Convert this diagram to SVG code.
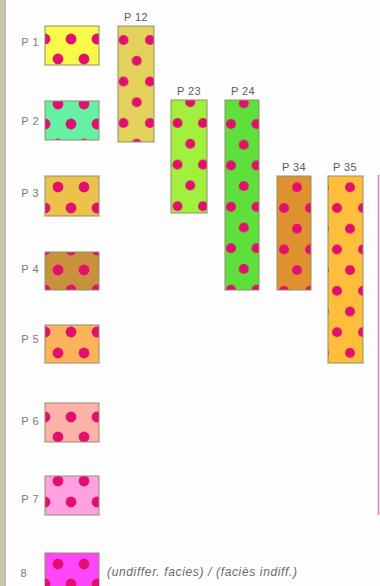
<svg xmlns="http://www.w3.org/2000/svg" width="380" height="586" viewBox="0 0 380 586">
<style>
.lbl{font-family:"Liberation Sans",Arial,sans-serif;font-size:11px;fill:#7a7a7a;letter-spacing:0.5px}
.clbl{font-family:"Liberation Sans",Arial,sans-serif;font-size:11px;fill:#5a5a5a;letter-spacing:0.4px;text-anchor:middle}
.note{font-family:"Liberation Sans",Arial,sans-serif;font-size:12px;font-style:italic;fill:#6a6a6a}
.edge{stroke:#8f8f6a;stroke-width:1}
.dot{fill:#e2106c}
pattern circle{fill:#e2106c}
</style>
<defs>
<pattern id="p1" patternUnits="userSpaceOnUse" x="45" y="39" width="26" height="40"><circle cx="0" cy="0" r="5.4"/><circle cx="26" cy="0" r="5.4"/><circle cx="13" cy="20" r="5.4"/><circle cx="0" cy="40" r="5.4"/><circle cx="26" cy="40" r="5.4"/></pattern>
<pattern id="p2" patternUnits="userSpaceOnUse" x="45" y="124" width="26" height="40"><circle cx="0" cy="0" r="5.4"/><circle cx="26" cy="0" r="5.4"/><circle cx="13" cy="20" r="5.4"/><circle cx="0" cy="40" r="5.4"/><circle cx="26" cy="40" r="5.4"/></pattern>
<pattern id="p3" patternUnits="userSpaceOnUse" x="45" y="208" width="26" height="42"><circle cx="0" cy="0" r="5.4"/><circle cx="26" cy="0" r="5.4"/><circle cx="13" cy="21" r="5.4"/><circle cx="0" cy="42" r="5.4"/><circle cx="26" cy="42" r="5.4"/></pattern>
<pattern id="p4" patternUnits="userSpaceOnUse" x="45" y="250" width="26" height="40"><circle cx="0" cy="0" r="5.4"/><circle cx="26" cy="0" r="5.4"/><circle cx="13" cy="20" r="5.4"/><circle cx="0" cy="40" r="5.4"/><circle cx="26" cy="40" r="5.4"/></pattern>
<pattern id="p5" patternUnits="userSpaceOnUse" x="45" y="332" width="26" height="42"><circle cx="0" cy="0" r="5.4"/><circle cx="26" cy="0" r="5.4"/><circle cx="13" cy="21" r="5.4"/><circle cx="0" cy="42" r="5.4"/><circle cx="26" cy="42" r="5.4"/></pattern>
<pattern id="p6" patternUnits="userSpaceOnUse" x="45" y="417" width="26" height="40"><circle cx="0" cy="0" r="5.4"/><circle cx="26" cy="0" r="5.4"/><circle cx="13" cy="20" r="5.4"/><circle cx="0" cy="40" r="5.4"/><circle cx="26" cy="40" r="5.4"/></pattern>
<pattern id="p7" patternUnits="userSpaceOnUse" x="45" y="502" width="26" height="42"><circle cx="0" cy="0" r="5.4"/><circle cx="26" cy="0" r="5.4"/><circle cx="13" cy="21" r="5.4"/><circle cx="0" cy="42" r="5.4"/><circle cx="26" cy="42" r="5.4"/></pattern>
<pattern id="p12" patternUnits="userSpaceOnUse" x="123.5" y="40" width="26.5" height="41.5"><circle cx="0" cy="0" r="5"/><circle cx="26.5" cy="0" r="5"/><circle cx="13.25" cy="20.75" r="5"/><circle cx="0" cy="41.5" r="5"/><circle cx="26.5" cy="41.5" r="5"/></pattern>
<pattern id="p23" patternUnits="userSpaceOnUse" x="177.5" y="123" width="25.5" height="41.6"><circle cx="0" cy="0" r="5"/><circle cx="25.5" cy="0" r="5"/><circle cx="12.75" cy="20.8" r="5"/><circle cx="0" cy="41.6" r="5"/><circle cx="25.5" cy="41.6" r="5"/></pattern>
<pattern id="p24" patternUnits="userSpaceOnUse" x="231" y="124" width="25.5" height="41.4"><circle cx="0" cy="0" r="5"/><circle cx="25.5" cy="0" r="5"/><circle cx="12.75" cy="20.7" r="5"/><circle cx="0" cy="41.4" r="5"/><circle cx="25.5" cy="41.4" r="5"/></pattern>
<pattern id="p34" patternUnits="userSpaceOnUse" x="284" y="208" width="26" height="41.4"><circle cx="0" cy="0" r="5"/><circle cx="26" cy="0" r="5"/><circle cx="13" cy="20.7" r="5"/><circle cx="0" cy="41.4" r="5"/><circle cx="26" cy="41.4" r="5"/></pattern>
<pattern id="p35" patternUnits="userSpaceOnUse" x="337" y="208" width="26" height="41.4"><circle cx="0" cy="0" r="5"/><circle cx="26" cy="0" r="5"/><circle cx="13" cy="20.7" r="5"/><circle cx="0" cy="41.4" r="5"/><circle cx="26" cy="41.4" r="5"/></pattern>
<clipPath id="c8"><rect x="45" y="553" width="54" height="38"/></clipPath>
</defs>
<rect width="380" height="586" fill="#fdfdfd"/>
<rect x="0" y="0" width="4" height="586" fill="#c9c7a6"/>
<line x1="5" y1="0" x2="5" y2="586" stroke="#a6a69c" stroke-width="1.5"/>
<line x1="378.5" y1="175" x2="378.5" y2="515" stroke="#e77eb2" stroke-width="1.5"/>

<g id="P1"><rect x="45" y="26" width="54" height="39" fill="#f9f94a"/><rect x="45" y="26" width="54" height="39" class="edge" fill="url(#p1)"/><text class="lbl" x="39" y="46" text-anchor="end">P 1</text></g>
<g id="P2"><rect x="45" y="101" width="54" height="39" fill="#66f0a6"/><rect x="45" y="101" width="54" height="39" class="edge" fill="url(#p2)"/><text class="lbl" x="39" y="125" text-anchor="end">P 2</text></g>
<g id="P3"><rect x="45" y="176" width="54" height="40" fill="#edc24c"/><rect x="45" y="176" width="54" height="40" class="edge" fill="url(#p3)"/><text class="lbl" x="39" y="197" text-anchor="end">P 3</text></g>
<g id="P4"><rect x="45" y="252" width="54" height="38" fill="#c8913e"/><rect x="45" y="252" width="54" height="38" class="edge" fill="url(#p4)"/><text class="lbl" x="39" y="273" text-anchor="end">P 4</text></g>
<g id="P5"><rect x="45" y="325" width="54" height="38" fill="#fcb35c"/><rect x="45" y="325" width="54" height="38" class="edge" fill="url(#p5)"/><text class="lbl" x="39" y="343" text-anchor="end">P 5</text></g>
<g id="P6"><rect x="45" y="403" width="54" height="39" fill="#ffb3a8"/><rect x="45" y="403" width="54" height="39" class="edge" fill="url(#p6)"/><text class="lbl" x="39" y="425" text-anchor="end">P 6</text></g>
<g id="P7"><rect x="45" y="476" width="54" height="39" fill="#ffa0e0"/><rect x="45" y="476" width="54" height="39" class="edge" fill="url(#p7)"/><text class="lbl" x="39" y="503" text-anchor="end">P 7</text></g>
<g id="P8"><rect x="45" y="553" width="54" height="38" fill="#ff46fb" class="edge"/><g clip-path="url(#c8)"><circle class="dot" cx="58" cy="564" r="5.4"/><circle class="dot" cx="84" cy="564" r="5.4"/><circle class="dot" cx="45" cy="584" r="5.4"/><circle class="dot" cx="71" cy="584" r="5.4"/><circle class="dot" cx="97" cy="584" r="5.4"/></g><text class="lbl" x="27" y="577" text-anchor="end">8</text><text class="note" x="107" y="576" textLength="190" lengthAdjust="spacing">(undiffer. facies) / (faciès indiff.)</text></g>

<g id="P12"><rect x="118" y="26" width="36" height="116" fill="#e2d25c"/><rect x="118" y="26" width="36" height="116" class="edge" fill="url(#p12)"/><text class="clbl" x="136" y="21">P 12</text></g>
<g id="P23"><rect x="171" y="100" width="36" height="113" fill="#a2f03e"/><rect x="171" y="100" width="36" height="113" class="edge" fill="url(#p23)"/><text class="clbl" x="189" y="95">P 23</text></g>
<g id="P24"><rect x="225" y="100" width="34" height="190" fill="#5fdf3b"/><rect x="225" y="100" width="34" height="190" class="edge" fill="url(#p24)"/><text class="clbl" x="243" y="95">P 24</text></g>
<g id="P34"><rect x="277" y="176" width="34" height="114" fill="#df902f"/><rect x="277" y="176" width="34" height="114" class="edge" fill="url(#p34)"/><text class="clbl" x="294" y="171">P 34</text></g>
<g id="P35"><rect x="328" y="176" width="35" height="187" fill="#ffbd3c"/><rect x="328" y="176" width="35" height="187" class="edge" fill="url(#p35)"/><text class="clbl" x="345" y="171">P 35</text></g>
<g id="connectors"/>
</svg>
